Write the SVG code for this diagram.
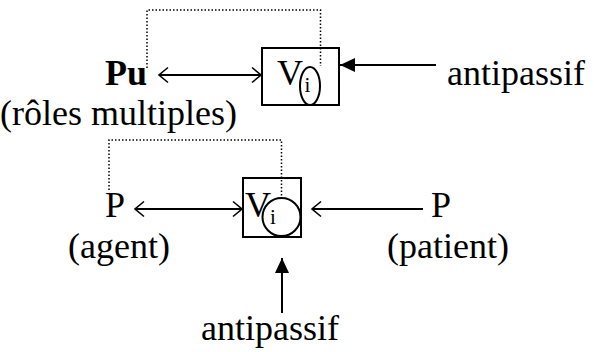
<svg xmlns="http://www.w3.org/2000/svg" width="594" height="352" viewBox="0 0 594 352">
<style>
text{font-family:"Liberation Serif","Times New Roman",serif;fill:#000;font-size:36px}
.b{font-weight:bold}
.sub{font-size:21px}
.box{fill:none;stroke:#000;stroke-width:2}
.dot{fill:none;stroke:#000;stroke-width:1.5;stroke-dasharray:1.5 2}
.ln{fill:none;stroke:#000;stroke-width:2}
</style>
<defs>
<marker id="open" viewBox="-12 -9 14 18" refX="0" refY="0" markerWidth="14" markerHeight="18" orient="auto-start-reverse" markerUnits="userSpaceOnUse">
<path d="M-9,-7.5 L0,0 L-9,7.5" fill="none" stroke="#000" stroke-width="1.6"/>
</marker>
<marker id="fill" viewBox="-17 -8 18 16" refX="0" refY="0" markerWidth="18" markerHeight="16" orient="auto" markerUnits="userSpaceOnUse">
<path d="M-15,-7 L0,0 L-15,7 Z" fill="#000"/>
</marker>
</defs>
<g id="connectors">
<path class="dot" d="M147,68 V10 H320.5 V66"/>
<line class="ln" x1="159" y1="75" x2="261" y2="75" marker-start="url(#open)" marker-end="url(#open)"/>
<line class="ln" x1="436" y1="65" x2="340" y2="65" marker-end="url(#fill)"/>
<path class="dot" d="M109,190 V140 H281.5 V198"/>
<line class="ln" x1="135" y1="209" x2="242" y2="209" marker-start="url(#open)" marker-end="url(#open)"/>
<line class="ln" x1="423" y1="209" x2="312" y2="209" marker-end="url(#open)"/>
<line class="ln" x1="282" y1="313" x2="282" y2="258" marker-end="url(#fill)"/>
</g>
<g id="pu">
<text class="b" x="105" y="85">Pu</text>
<text x="0" y="125">(rôles multiples)</text>
</g>
<g id="v1">
<rect class="box" x="262" y="48" width="77" height="57"/>
<text x="277" y="85">V</text>
<ellipse class="box" cx="310" cy="86" rx="10" ry="19" stroke-width="1.8"/>
<text class="sub" x="304.5" y="92">i</text>
</g>
<g id="antipassif1">
<text x="447" y="85">antipassif</text>
</g>
<g id="p-agent">
<text x="105" y="217">P</text>
<text x="68" y="258">(agent)</text>
</g>
<g id="v2">
<rect class="box" x="243" y="178" width="58" height="59"/>
<text x="245" y="217">V</text>
<circle class="box" cx="281.5" cy="217" r="19" stroke-width="1.8"/>
<text class="sub" x="270" y="224">i</text>
</g>
<g id="p-patient">
<text x="431" y="217">P</text>
<text x="387" y="258">(patient)</text>
</g>
<g id="antipassif2">
<text x="201" y="340">antipassif</text>
</g>
</svg>
